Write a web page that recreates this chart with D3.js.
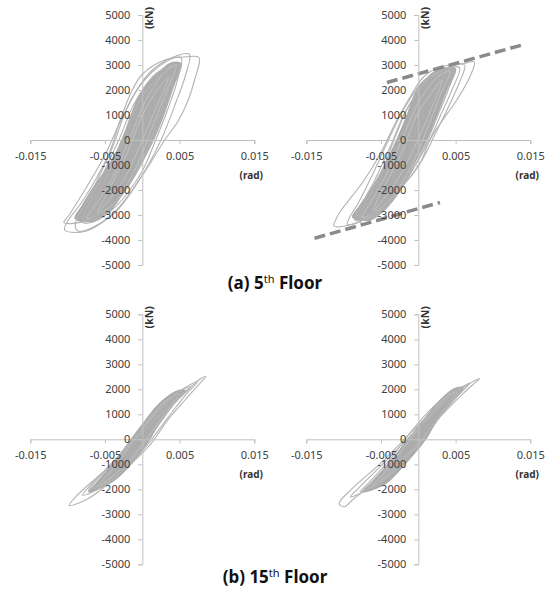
<!DOCTYPE html>
<html>
<head>
<meta charset="utf-8">
<script src="https://cdnjs.cloudflare.com/ajax/libs/d3/7.8.5/d3.min.js"></script>
<style>
  body { margin: 0; background: #fff; }
  text { font-family: "Noto Sans", "DejaVu Sans", sans-serif; }
</style>
</head>
<body>
<div id="chart"></div>
<script>
// axis ticks
const driftTicks = [-0.015, -0.005, 0.005, 0.015];
const forceTicks = [-5000, -4000, -3000, -2000, -1000, 0, 1000, 2000, 3000, 4000, 5000];

// hysteresis loops [drift (rad), story shear (kN)]
const floor5Left = [
  [[0.0076, 3300], [0.0070, 2400], [0.0061, 1560], [0.0048, 760], [0.0030, 0], [0.0004, -1240], [-0.0036, -2840], [-0.0076, -3650], [-0.0104, -3600], [-0.0100, -3250], [-0.0080, -2440], [-0.0045, -570], [-0.0030, 760], [-0.0015, 1900], [0.0000, 2630], [0.0030, 3200], [0.0060, 3330]],
  [[0.0063, 3430], [0.0058, 2600], [0.0045, 1500], [0.0025, 0], [0.0000, -1400], [-0.0040, -3000], [-0.0085, -3650], [-0.0090, -3400], [-0.0070, -2200], [-0.0040, -300], [-0.0020, 1300], [0.0010, 2700], [0.0040, 3300]],
  [[0.0052, 3290], [0.0048, 2500], [0.0035, 1300], [0.0018, 0], [-0.0005, -1500], [-0.0050, -3000], [-0.0105, -3300], [-0.0098, -3000], [-0.0075, -1900], [-0.0050, -600], [-0.0030, 700], [-0.0005, 2100], [0.0030, 3100]],
  [[0.0050, 3000], [0.0040, 2000], [0.0025, 800], [0.0010, -300], [-0.0020, -1900], [-0.0060, -3200], [-0.0080, -3300], [-0.0075, -2800], [-0.0055, -1500], [-0.0030, 100], [-0.0010, 1500], [0.0020, 2700]],
  [[0.0045, 2900], [0.0035, 2000], [0.0020, 700], [0.0000, -800], [-0.0030, -2300], [-0.0070, -3100], [-0.0065, -2600], [-0.0045, -1300], [-0.0025, 200], [-0.0005, 1500], [0.0025, 2600]]
];
const floor5LeftCore = [[0.0052, 3050], [0.0042, 2200], [0.0030, 1100], [0.0015, 0], [-0.0005, -1100], [-0.0023, -2000], [-0.0045, -2900], [-0.0065, -3250], [-0.0090, -3150], [-0.0080, -2600], [-0.0068, -2000], [-0.0045, -1000], [-0.0027, 0], [-0.0015, 1000], [0.0000, 2000], [0.0025, 2800], [0.0040, 3100]];
const floor5LeftInner = [
  [[0.0045, 3000], [0.0030, 1800], [0.0012, 400], [-0.0010, -1200], [-0.0040, -2600], [-0.0075, -3150], [-0.0060, -2500], [-0.0035, -1200], [-0.0015, 200], [0.0005, 1600], [0.0030, 2700]],
  [[0.0035, 2500], [0.0020, 1400], [0.0000, 0], [-0.0025, -1600], [-0.0060, -2900], [-0.0045, -2000], [-0.0020, -500], [0.0000, 1000], [0.0020, 2000]]
];

const floor5Right = [
  [[0.0075, 3120], [0.0069, 2520], [0.0051, 1580], [0.0029, 640], [0.0015, -30], [0.0002, -960], [-0.0015, -1630], [-0.0051, -2700], [-0.0082, -3310], [-0.0113, -3440], [-0.0110, -3150], [-0.0104, -2840], [-0.0073, -1630], [-0.0051, -560], [-0.0029, 780], [-0.0011, 1720], [0.0007, 2520], [0.0029, 2920], [0.0060, 3060]],
  [[0.0062, 3000], [0.0055, 2300], [0.0040, 1300], [0.0022, 200], [0.0005, -800], [-0.0025, -2000], [-0.0060, -3000], [-0.0095, -3380], [-0.0092, -3100], [-0.0080, -2500], [-0.0060, -1300], [-0.0040, 0], [-0.0020, 1200], [0.0005, 2300], [0.0035, 2850]],
  [[0.0055, 2900], [0.0045, 2000], [0.0030, 1000], [0.0015, 0], [-0.0010, -1300], [-0.0040, -2600], [-0.0075, -3350], [-0.0078, -3050], [-0.0065, -2200], [-0.0045, -1000], [-0.0030, 200], [-0.0010, 1500], [0.0020, 2600]],
  [[0.0048, 2800], [0.0040, 2000], [0.0025, 900], [0.0008, -300], [-0.0020, -1800], [-0.0055, -3000], [-0.0085, -3200], [-0.0080, -2800], [-0.0060, -1700], [-0.0038, -300], [-0.0018, 1100], [0.0010, 2300], [0.0030, 2750]]
];
const floor5RightCore = [[0.0050, 2850], [0.0038, 2000], [0.0025, 1000], [0.0011, 0], [-0.0008, -1100], [-0.0024, -2000], [-0.0045, -2800], [-0.0065, -3200], [-0.0088, -3100], [-0.0078, -2600], [-0.0064, -2000], [-0.0045, -1000], [-0.0029, 0], [-0.0015, 1000], [-0.0002, 2000], [0.0020, 2700], [0.0038, 2900]];
const floor5RightInner = [
  [[0.0042, 2750], [0.0028, 1700], [0.0010, 300], [-0.0012, -1200], [-0.0042, -2500], [-0.0075, -3100], [-0.0062, -2400], [-0.0038, -1100], [-0.0018, 300], [0.0002, 1600], [0.0025, 2500]],
  [[0.0032, 2400], [0.0018, 1300], [-0.0002, -100], [-0.0028, -1600], [-0.0060, -2800], [-0.0048, -2000], [-0.0022, -500], [-0.0002, 1000], [0.0018, 1900]]
];

// bilinear bounds on the 5th floor right panel
const upperBound = [[-0.0042, 2300], [0.0139, 3800]];
const lowerBound = [[-0.0139, -3930], [0.0029, -2500]];

const floor15Left = [
  [[0.0085, 2510], [0.0079, 2300], [0.0061, 1700], [0.0034, 770], [0.0012, -160], [-0.0019, -1090], [-0.0050, -1890], [-0.0076, -2430], [-0.0098, -2650], [-0.0089, -2290], [-0.0050, -1230], [-0.0014, -160], [0.0017, 770], [0.0043, 1570], [0.0065, 2100], [0.0079, 2440]],
  [[0.0074, 2300], [0.0060, 1850], [0.0035, 900], [0.0010, -100], [-0.0020, -1100], [-0.0050, -1850], [-0.0080, -2230], [-0.0070, -1850], [-0.0045, -1100], [-0.0015, -100], [0.0015, 900], [0.0045, 1800], [0.0065, 2200]],
  [[0.0065, 2100], [0.0045, 1500], [0.0020, 500], [-0.0005, -500], [-0.0035, -1500], [-0.0072, -2030], [-0.0060, -1600], [-0.0030, -600], [-0.0005, 400], [0.0025, 1400], [0.0055, 2000]]
];
const floor15LeftCore = [[0.0058, 1950], [0.0040, 1350], [0.0020, 500], [0.0010, 0], [-0.0015, -1000], [-0.0040, -1700], [-0.0072, -2100], [-0.0060, -1700], [-0.0035, -800], [-0.0014, 0], [0.0000, 600], [0.0025, 1500], [0.0048, 1950]];
const floor15LeftInner = [
  [[0.0050, 1800], [0.0030, 1000], [0.0005, 0], [-0.0025, -1100], [-0.0060, -1900], [-0.0040, -1200], [-0.0015, -200], [0.0010, 800], [0.0035, 1600]]
];

const floor15Right = [
  [[0.0082, 2430], [0.0077, 2290], [0.0060, 1830], [0.0029, 890], [0.0007, 90], [-0.0029, -970], [-0.0060, -1770], [-0.0086, -2370], [-0.0099, -2700], [-0.0106, -2570], [-0.0091, -2040], [-0.0051, -970], [-0.0020, -40], [0.0011, 890], [0.0042, 1690], [0.0069, 2230]],
  [[0.0069, 2250], [0.0055, 1800], [0.0030, 950], [0.0008, 100], [-0.0025, -1000], [-0.0055, -1800], [-0.0091, -2300], [-0.0080, -1950], [-0.0048, -1000], [-0.0015, 0], [0.0015, 900], [0.0045, 1750], [0.0062, 2150]],
  [[0.0060, 2100], [0.0040, 1400], [0.0015, 400], [-0.0010, -500], [-0.0040, -1500], [-0.0078, -2100], [-0.0065, -1700], [-0.0035, -700], [-0.0010, 300], [0.0020, 1300], [0.0050, 2000]]
];
const floor15RightCore = [[0.0060, 2050], [0.0042, 1400], [0.0022, 600], [0.0010, 0], [-0.0015, -900], [-0.0045, -1800], [-0.0075, -2100], [-0.0062, -1700], [-0.0035, -800], [-0.0014, 0], [0.0005, 700], [0.0030, 1600], [0.0050, 2050]];
const floor15RightInner = [
  [[0.0052, 1900], [0.0032, 1100], [0.0006, 0], [-0.0025, -1000], [-0.0062, -1900], [-0.0042, -1200], [-0.0016, -200], [0.0010, 800], [0.0036, 1650]]
];

const width = 550, height = 595;

const svg = d3.select("#chart")
  .append("svg")
  .attr("width", width)
  .attr("height", height)
  .attr("viewBox", [0, 0, width, height]);

svg.append("rect").attr("width", width).attr("height", height).attr("fill", "#fff");

const panels = [
  { cx: 142.3, top: 15, loops: floor5Left, core: floor5LeftCore, inner: floor5LeftInner },
  { cx: 418.3, top: 15, loops: floor5Right, core: floor5RightCore, inner: floor5RightInner, bounds: [upperBound, lowerBound] },
  { cx: 142.3, top: 314.3, loops: floor15Left, core: floor15LeftCore, inner: floor15LeftInner },
  { cx: 418.3, top: 314.3, loops: floor15Right, core: floor15RightCore, inner: floor15RightInner }
];

const fmt = f => (d => f(d).replace("\u2212", "-"));

panels.forEach(p => {
  const x = d3.scaleLinear([-0.015, 0.015], [p.cx - 112, p.cx + 112]);
  const y = d3.scaleLinear([-5000, 5000], [p.top + 250, p.top]);
  const g = svg.append("g");

  const loopLine = d3.line()
    .x(d => x(d[0]))
    .y(d => y(d[1]))
    .curve(d3.curveCatmullRomClosed.alpha(0.5));

  const xAxis = g.append("g")
    .attr("transform", `translate(0,${y(0)})`)
    .call(d3.axisBottom(x).tickValues(driftTicks).tickSize(4).tickPadding(8).tickFormat(fmt(d3.format(".3f"))));
  const yAxis = g.append("g")
    .attr("transform", `translate(${x(0)},0)`)
    .call(d3.axisLeft(y).tickValues(forceTicks).tickSize(4).tickPadding(8).tickFormat(fmt(d3.format("d"))));

  [xAxis, yAxis].forEach(a => {
    a.select(".domain").attr("stroke", "#c0c0c0");
    a.selectAll(".tick line").attr("stroke", "#c0c0c0");
    a.selectAll(".tick text")
      .attr("fill", "#404040")
      .style("font-size", "11px")
      .style("font-family", "'Noto Sans', sans-serif");
  });

  g.append("path")
    .attr("d", loopLine(p.core))
    .attr("fill", "#acacac")
    .attr("stroke", "#a4a4a4")
    .attr("stroke-width", 1);

  g.selectAll(".inner")
    .data(p.inner)
    .join("path")
    .attr("class", "inner")
    .attr("d", loopLine)
    .attr("fill", "none")
    .attr("stroke", "#c8c8c8")
    .attr("stroke-width", 0.8);

  g.selectAll(".loop")
    .data(p.loops)
    .join("path")
    .attr("class", "loop")
    .attr("d", loopLine)
    .attr("fill", "none")
    .attr("stroke", "#b3b3b3")
    .attr("stroke-width", 1.1);

  if (p.bounds) {
    g.selectAll(".bound")
      .data(p.bounds)
      .join("line")
      .attr("class", "bound")
      .attr("x1", d => x(d[0][0]))
      .attr("y1", d => y(d[0][1]))
      .attr("x2", d => x(d[1][0]))
      .attr("y2", d => y(d[1][1]))
      .attr("stroke", "#8a8a8a")
      .attr("stroke-width", 3.5)
      .attr("stroke-dasharray", "11,5");
  }

  // tick labels stay readable above the loops
  xAxis.raise();
  yAxis.raise();

  g.append("text")
    .attr("transform", `translate(${x(0) + 11},${y(5000) + 3}) rotate(-90)`)
    .attr("text-anchor", "middle")
    .style("font-size", "10.5px")
    .style("font-weight", "bold")
    .attr("fill", "#333")
    .text("(kN)");

  g.append("text")
    .attr("x", x(0.015) - 3)
    .attr("y", y(0) + 39)
    .attr("text-anchor", "middle")
    .style("font-size", "10px")
    .style("font-weight", "bold")
    .attr("fill", "#333")
    .text("(rad)");
});

const captions = [
  { label: "(a) 5", sup: "th", rest: " Floor", y: 289 },
  { label: "(b) 15", sup: "th", rest: " Floor", y: 583 }
];

captions.forEach(c => {
  const t = svg.append("text")
    .attr("x", width / 2)
    .attr("y", c.y)
    .attr("text-anchor", "middle")
    .style("font-size", "17px")
    .style("font-weight", "bold")
    .attr("fill", "#111");
  t.append("tspan").text(c.label);
  t.append("tspan").attr("dy", -6).style("font-size", "11px").style("font-weight", "normal").text(c.sup);
  t.append("tspan").attr("dy", 6).text(c.rest);
});
</script>
</body>
</html>
